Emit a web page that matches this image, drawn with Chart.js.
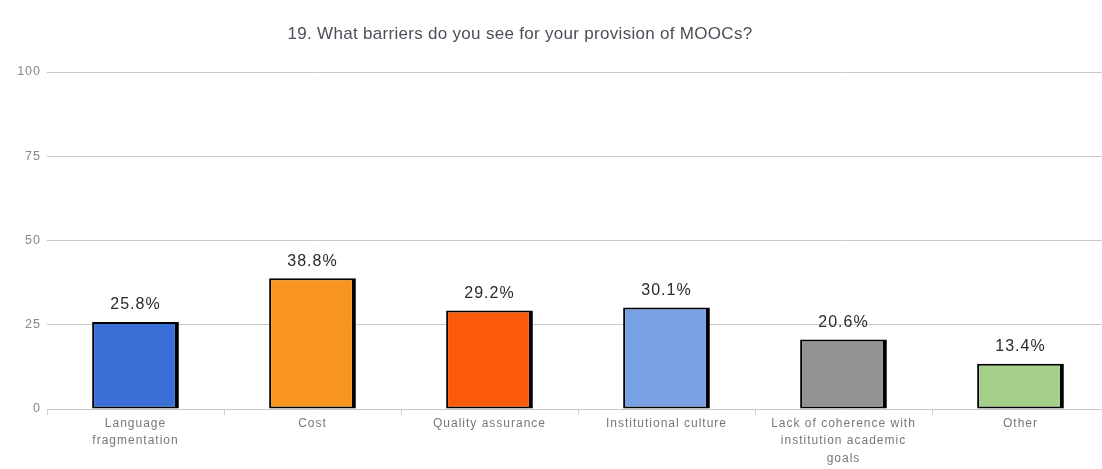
<!DOCTYPE html>
<html><head><meta charset="utf-8">
<script src="https://cdn.jsdelivr.net/npm/chart.js@4"></script>
<style>html,body{margin:0;padding:0;background:#fff;overflow:hidden;width:1102px;height:469px}#wrap{width:1110px;height:469px;position:relative}</style>
</head><body><div id="wrap"><canvas id="c"></canvas></div>
<script>
const titleText = "19. What barriers do you see for your provision of MOOCs?";
const categories = [["Language","fragmentation"],["Cost"],["Quality assurance"],["Institutional culture"],["Lack of coherence with","institution academic","goals"],["Other"]];
const values = [25.8, 38.8, 29.2, 30.1, 20.6, 13.4];
const yTicks = [0, 25, 50, 75, 100];
const barColors = ["#3a6fd8","#f8951f","#fd5b0c","#79a1e5","#939395","#a4d08b"];

const FONT = '"Liberation Sans", Arial, sans-serif';

const spacingPlugin = {
  id: 'spacing',
  beforeDraw(chart) { chart.ctx.letterSpacing = '1px'; },
  afterDraw(chart) { chart.ctx.letterSpacing = '0px'; }
};

const labelPlugin = {
  id: 'lbl',
  afterDatasetsDraw(chart) {
    const ctx = chart.ctx;
    const meta = chart.getDatasetMeta(0);
    ctx.save();
    ctx.letterSpacing = '1px';
    ctx.font = '16px ' + FONT;
    ctx.fillStyle = '#2a2a2a';
    ctx.textAlign = 'center';
    ctx.textBaseline = 'middle';
    meta.data.forEach((bar, i) => {
      ctx.fillText(values[i].toFixed(1) + '%', bar.x, bar.y - 17);
    });
    ctx.letterSpacing = '0.3px';
    ctx.font = '17px ' + FONT;
    ctx.fillStyle = '#4a4f57';
    ctx.fillText(titleText, 520, 34);
    ctx.restore();
  }
};

new Chart(document.getElementById('c'), {
  type: 'bar',
  data: {
    labels: categories,
    datasets: [{
      data: values,
      backgroundColor: barColors,
      borderColor: '#000',
      borderWidth: {left: 2, top: 2, bottom: 2, right: 4},
      borderSkipped: false,
      barPercentage: 0.49,
      categoryPercentage: 1
    }]
  },
  options: {
    responsive: true,
    maintainAspectRatio: false,
    animation: false,
    layout: {padding: {top: 72, right: 1, left: 0, bottom: 0}},
    plugins: {legend: {display: false}, tooltip: {enabled: false}, title: {display: false}},
    scales: {
      x: {
        afterFit(s) { s.height = 60; },
        grid: {display: true, drawOnChartArea: false, drawTicks: true, tickLength: 6, offset: true, color: '#d0d0d0'},
        border: {display: false},
        ticks: {color: '#777', font: {size: 12, family: FONT, lineHeight: 1.45}, padding: 0, maxRotation: 0, autoSkip: false}
      },
      y: {
        min: 0, max: 100,
        afterFit(s) { s.width = 47; },
        afterBuildTicks(s) { s.ticks = yTicks.map(v => ({value: v})); },
        grid: {color: '#c8c8c8', drawTicks: false},
        border: {display: false},
        ticks: {color: '#888', font: {size: 12.5, family: FONT}, padding: 6}
      }
    }
  },
  plugins: [spacingPlugin, labelPlugin]
});
</script></body></html>
